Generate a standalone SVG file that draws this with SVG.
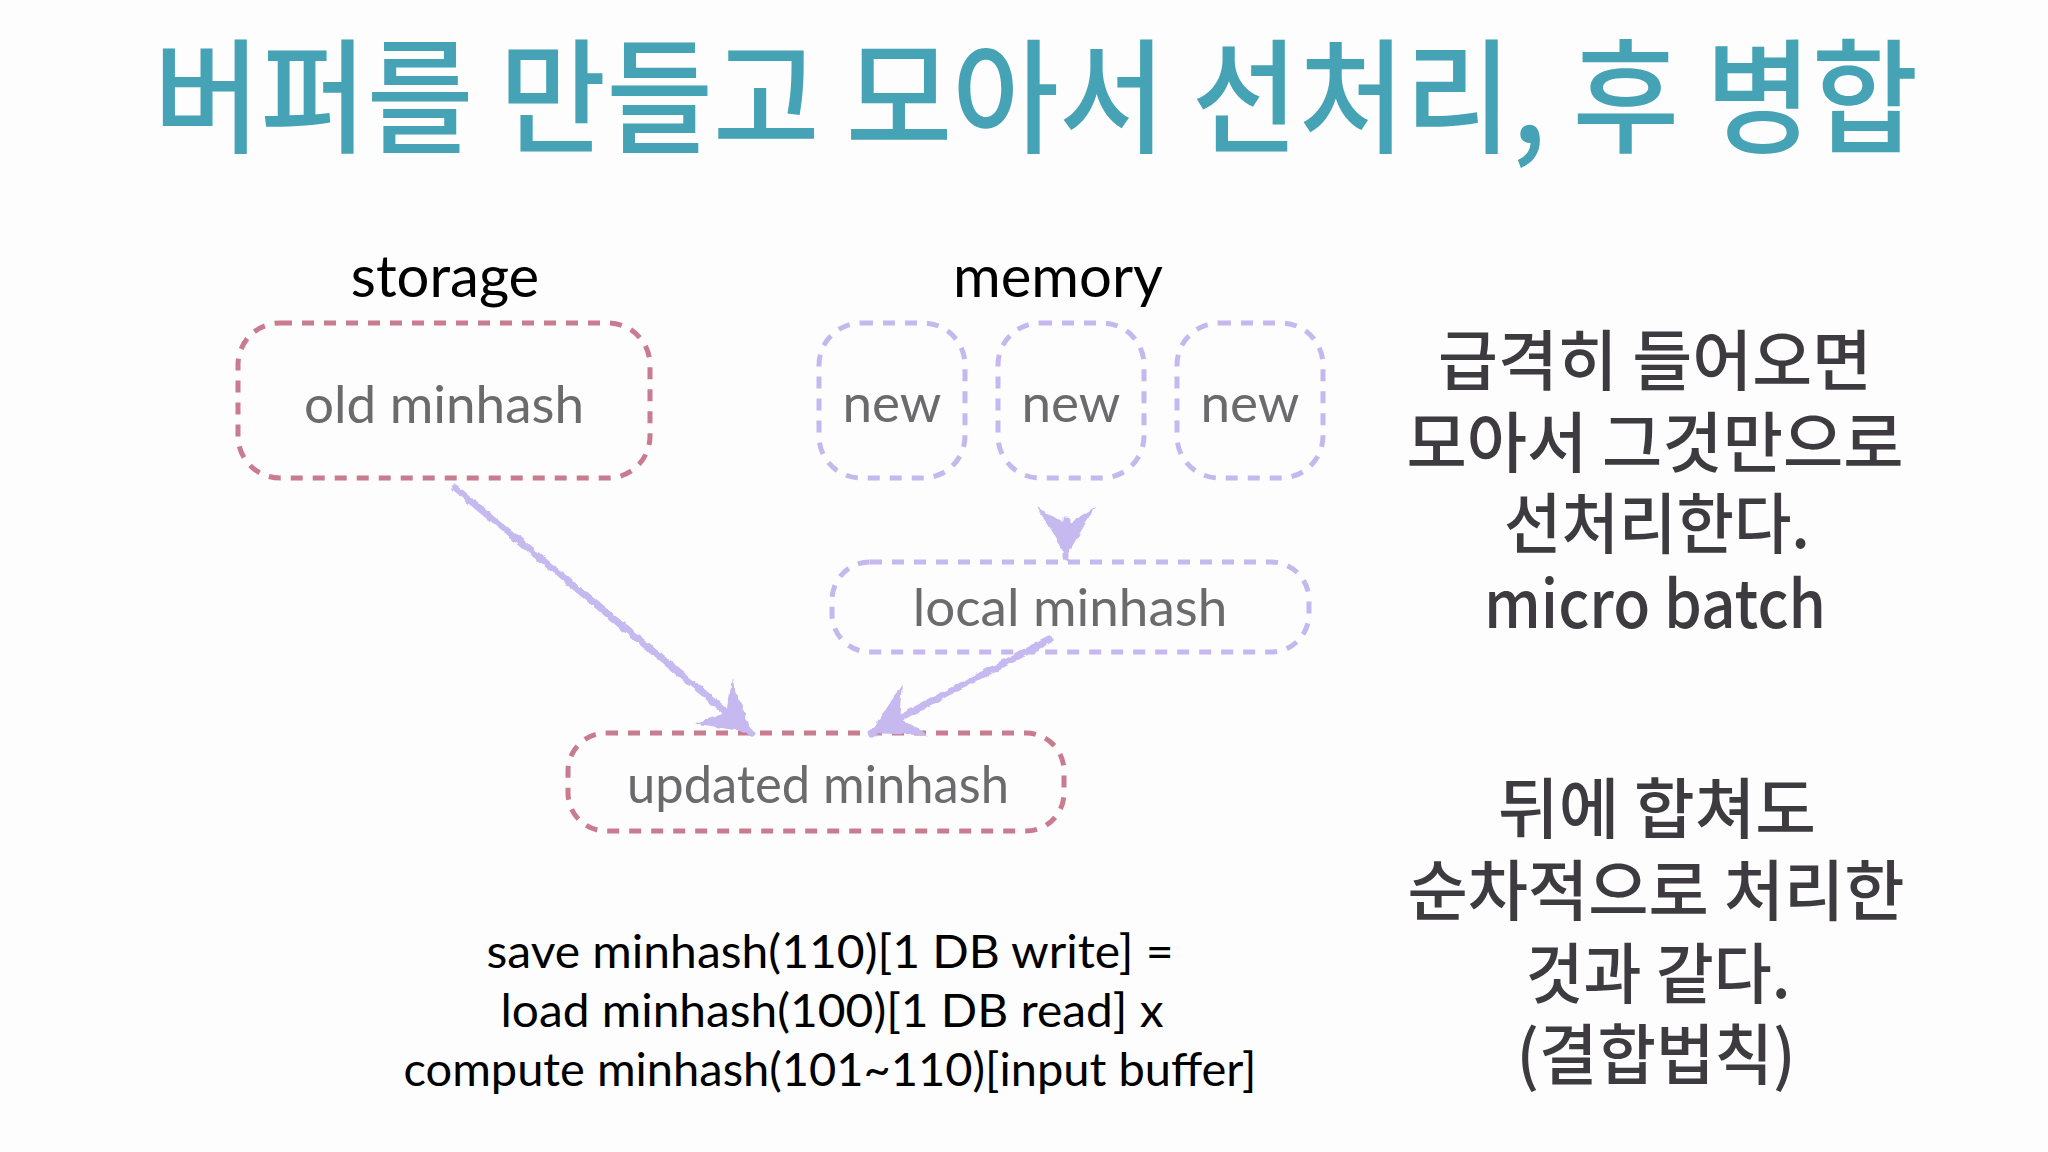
<svg xmlns="http://www.w3.org/2000/svg" width="2048" height="1152" viewBox="0 0 2048 1152">
<defs>
<style>
.bg{fill:#fdfdfd}
.title{font-family:"Noto Sans CJK KR","Noto Sans",sans-serif;font-size:124px;font-weight:500;fill:#46a3b6;text-anchor:middle}
.head{font-family:Lato,"Liberation Sans",sans-serif;font-size:58px;fill:#000;text-anchor:middle}
.lbl{font-family:Lato,"Liberation Sans",sans-serif;font-size:53px;fill:#6b6b6d;text-anchor:middle}
.pink{fill:none;stroke:#c97b8f;stroke-width:5;stroke-dasharray:12 10}
.lav{fill:none;stroke:#c4b8ef;stroke-width:5;stroke-dasharray:12 10}
.note{font-family:"Noto Sans CJK KR","Noto Sans",sans-serif;font-size:66px;font-weight:500;fill:#3d3b3f;text-anchor:middle}
.formula{font-family:Lato,"Liberation Sans",sans-serif;font-size:47px;fill:#000;text-anchor:middle}
.conn{fill:none;stroke:#c6b9f0;stroke-width:7;stroke-linecap:round}
</style>
<filter id="rough" x="-10%" y="-10%" width="120%" height="120%">
<feTurbulence type="fractalNoise" baseFrequency="0.12" numOctaves="2" seed="3"/>
<feDisplacementMap in="SourceGraphic" scale="5" xChannelSelector="R" yChannelSelector="G"/>
</filter>
<marker id="ah" markerUnits="userSpaceOnUse" viewBox="-54 -32 58 64" refX="0" refY="0" markerWidth="58" markerHeight="64" orient="auto">
<path d="M0,0 L-50,-29 L-32,0 L-50,29 Z" fill="#c6b9f0"/>
</marker>
</defs>
<rect class="bg" x="0" y="0" width="2048" height="1152"/>

<g id="title">
<text class="title" x="1036" y="143" textLength="1765" lengthAdjust="spacingAndGlyphs">버퍼를 만들고 모아서 선처리, 후 병합</text>
</g>

<g id="label-storage"><text class="head" x="445" y="297">storage</text></g>
<g id="label-memory"><text class="head" x="1058" y="297">memory</text></g>

<g id="node-old">
<rect class="pink" x="238" y="323" width="412" height="155" rx="42"/>
<text class="lbl" x="444" y="423">old minhash</text>
</g>
<g id="node-new1">
<rect class="lav" x="819" y="323" width="146" height="155" rx="42"/>
<text class="lbl" x="892" y="422">new</text>
</g>
<g id="node-new2">
<rect class="lav" x="998" y="323" width="146" height="155" rx="42"/>
<text class="lbl" x="1071" y="422">new</text>
</g>
<g id="node-new3">
<rect class="lav" x="1177" y="323" width="146" height="155" rx="42"/>
<text class="lbl" x="1250" y="422">new</text>
</g>
<g id="node-local">
<rect class="lav" x="832" y="562" width="477" height="90" rx="38"/>
<text class="lbl" x="1070" y="626">local minhash</text>
</g>
<g id="node-updated">
<rect class="pink" x="568" y="733" width="496" height="98" rx="38"/>
<text class="lbl" x="818" y="803" textLength="382" lengthAdjust="spacingAndGlyphs">updated minhash</text>
</g>

<g id="connectors" filter="url(#rough)">
<line class="conn" x1="455" y1="488" x2="752" y2="733" marker-end="url(#ah)"/>
<line class="conn" x1="1049" y1="640" x2="871" y2="733" marker-end="url(#ah)"/>
<line class="conn" x1="1066" y1="520" x2="1066" y2="557" marker-end="url(#ah)"/>
</g>

<g id="note-top">
<text class="note" x="1655" y="385" textLength="434" lengthAdjust="spacingAndGlyphs">급격히 들어오면</text>
<text class="note" x="1655" y="467" textLength="497" lengthAdjust="spacingAndGlyphs">모아서 그것만으로</text>
<text class="note" x="1657" y="548" textLength="306" lengthAdjust="spacingAndGlyphs">선처리한다.</text>
<text class="note" x="1655" y="628" textLength="342" lengthAdjust="spacingAndGlyphs">micro batch</text>
</g>

<g id="note-bottom">
<text class="note" x="1657" y="833" textLength="318" lengthAdjust="spacingAndGlyphs">뒤에 합쳐도</text>
<text class="note" x="1656" y="915" textLength="497" lengthAdjust="spacingAndGlyphs">순차적으로 처리한</text>
<text class="note" x="1658" y="998" textLength="265" lengthAdjust="spacingAndGlyphs">것과 같다.</text>
<text class="note" x="1656" y="1079" textLength="279" lengthAdjust="spacingAndGlyphs">(결합법칙)</text>
</g>

<g id="formula">
<text class="formula" x="830" y="968" textLength="687" lengthAdjust="spacingAndGlyphs">save minhash(110)[1 DB write] =</text>
<text class="formula" x="832" y="1027" textLength="663" lengthAdjust="spacingAndGlyphs">load minhash(100)[1 DB read] x</text>
<text class="formula" x="830" y="1086" textLength="853" lengthAdjust="spacingAndGlyphs">compute minhash(101~110)[input buffer]</text>
</g>
</svg>
